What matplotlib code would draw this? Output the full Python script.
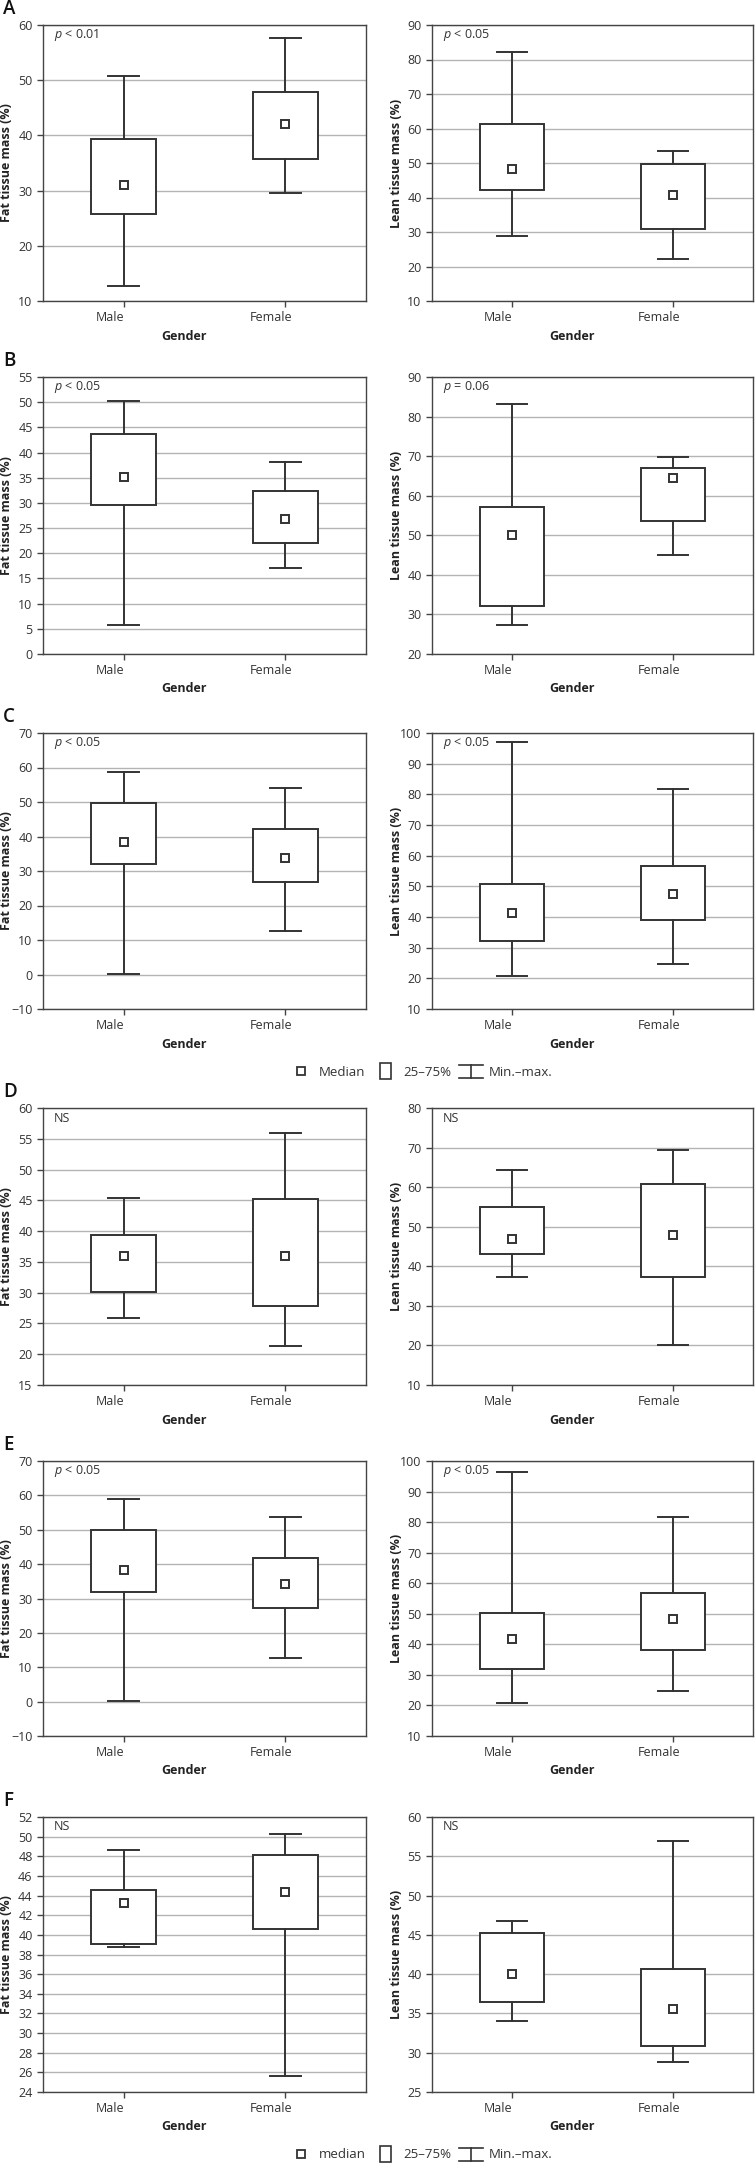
import matplotlib
matplotlib.use('Agg')
import matplotlib.pyplot as plt
import matplotlib.transforms as mtransforms
from matplotlib.lines import Line2D
from matplotlib.patches import Rectangle
from matplotlib.legend_handler import HandlerBase

plt.rcParams['font.family'] = ['Open Sans', 'DejaVu Sans']
plt.rcParams['mathtext.fontset'] = 'custom'
plt.rcParams['mathtext.it'] = 'Open Sans:italic'
plt.rcParams['mathtext.rm'] = 'Open Sans'

groups = ['Male', 'Female']
letters = ['A', 'B', 'C', 'D', 'E', 'F']

# (male, female) per panel
fat_min = [(12.7, 29.6), (5.7, 17.1), (0.1, 12.7), (25.9, 21.4), (0.1, 12.6), (38.8, 25.6)]
fat_q1 = [(25.8, 35.7), (29.5, 22.0), (32.0, 26.9), (30.1, 27.8), (31.9, 27.3), (39.1, 40.6)]
fat_med = [(31.0, 42.1), (35.1, 26.8), (38.4, 33.8), (36.0, 35.9), (38.2, 34.2), (43.2, 44.4)]
fat_q3 = [(39.3, 47.8), (43.6, 32.3), (49.7, 42.2), (39.4, 45.2), (49.9, 41.9), (44.6, 48.1)]
fat_max = [(50.7, 57.7), (50.3, 38.2), (58.7, 54.0), (45.4, 55.9), (58.9, 53.8), (48.6, 50.3)]

lean_min = [(28.8, 22.2), (27.4, 45.1), (20.8, 24.6), (37.3, 20.0), (20.9, 24.7), (34.1, 28.8)]
lean_q1 = [(42.2, 31.0), (32.2, 53.6), (32.2, 38.9), (43.1, 37.3), (32.0, 38.2), (36.5, 30.8)]
lean_med = [(48.4, 40.7), (50.1, 64.5), (41.4, 47.6), (46.8, 48.0), (41.6, 48.3), (40.0, 35.6)]
lean_q3 = [(61.2, 49.8), (57.2, 67.1), (50.9, 56.7), (55.1, 60.7), (50.4, 56.9), (45.3, 40.7)]
lean_max = [(82.2, 53.6), (83.3, 69.8), (97.1, 81.9), (64.4, 69.5), (96.4, 81.7), (46.8, 56.9)]

# y axis (low, high, step)
fat_axis = [(10, 60, 10), (0, 55, 5), (-10, 70, 10), (15, 60, 5), (-10, 70, 10), (24, 52, 2)]
lean_axis = [(10, 90, 10), (20, 90, 10), (10, 100, 10), (10, 80, 10), (10, 100, 10), (25, 60, 5)]

fat_p = [r'$\mathit{p}$ < 0.01', r'$\mathit{p}$ < 0.05', r'$\mathit{p}$ < 0.05', 'NS', r'$\mathit{p}$ < 0.05', 'NS']
lean_p = [r'$\mathit{p}$ < 0.05', r'$\mathit{p}$ = 0.06', r'$\mathit{p}$ < 0.05', 'NS', r'$\mathit{p}$ < 0.05', 'NS']

# panel tops/bottoms in pixels
row_top = [25, 377, 733, 1108, 1461, 1817]
row_bot = [301, 654, 1009, 1385, 1736, 2092]

W, H = 755, 2165
fig = plt.figure(figsize=(W / 100, H / 100), dpi=100)

DARK = '#333333'
GRID = '#b4b4b4'
FS = 9


def draw_panel(ax, mins, q1s, meds, q3s, maxs, axis, ptext, ylabel):
    stats = []
    for i in range(2):
        stats.append(dict(whislo=mins[i], q1=q1s[i], med=meds[i], q3=q3s[i], whishi=maxs[i], fliers=[]))
    ax.bxp(stats, positions=[1, 2], widths=0.4, capwidths=0.19, patch_artist=True,
           boxprops=dict(facecolor='white', edgecolor=DARK, linewidth=1.4),
           whiskerprops=dict(color=DARK, linewidth=1.4),
           capprops=dict(color=DARK, linewidth=1.4),
           medianprops=dict(visible=False), showfliers=False)
    ax.plot([1, 2], meds, linestyle='none', marker='s', markersize=5.5,
            markerfacecolor='white', markeredgecolor=DARK, markeredgewidth=1.4, zorder=5)
    lo, hi, step = axis
    ticks = list(range(lo, hi + 1, step))
    ax.set_ylim(lo, hi)
    ax.set_yticks(ticks)
    ax.set_xlim(0.5, 2.5)
    ax.set_xticks([1, 2])
    ax.set_xticklabels(groups)
    ax.yaxis.grid(True, color=GRID, linewidth=1)
    ax.set_axisbelow(True)
    for s in ax.spines.values():
        s.set_color('#444444')
        s.set_linewidth(1)
    ax.tick_params(axis='both', labelsize=FS, colors='#444444', labelcolor='#333333',
                   length=4, width=1)
    off = mtransforms.ScaledTranslation(-0.14, 0, fig.dpi_scale_trans)
    for lab in ax.get_xticklabels():
        lab.set_transform(lab.get_transform() + off)
    ax.set_ylabel(ylabel, fontsize=FS, fontweight='bold', color='#222222', va='center')
    ax.yaxis.set_label_coords(-36 / ax.bbox.width, 0.5)
    ax.set_xlabel('Gender', fontsize=FS, fontweight='bold', color='#222222', va='center')
    ax.xaxis.set_label_coords(0.435, -35 / ax.bbox.height)
    ax.text(11 / ax.bbox.width, 1 - 10 / ax.bbox.height, ptext, transform=ax.transAxes,
            fontsize=FS, color='#333333', va='center', ha='left')


for r in range(6):
    b = 1 - row_bot[r] / H
    h = (row_bot[r] - row_top[r]) / H
    axL = fig.add_axes([43 / W, b, 323 / W, h])
    axR = fig.add_axes([432 / W, b, 321 / W, h])
    draw_panel(axL, fat_min[r], fat_q1[r], fat_med[r], fat_q3[r], fat_max[r],
               fat_axis[r], fat_p[r], 'Fat tissue mass (%)')
    draw_panel(axR, lean_min[r], lean_q1[r], lean_med[r], lean_q3[r], lean_max[r],
               lean_axis[r], lean_p[r], 'Lean tissue mass (%)')
    fig.text(3 / W, 1 - (row_top[r] - 16) / H, letters[r], fontsize=13.5, fontweight='semibold',
             va='center', ha='left', color='#111111')


class BoxKey:
    pass


class WhiskerKey:
    pass


class BoxHandler(HandlerBase):
    def create_artists(self, legend, orig_handle, xdescent, ydescent, width, height, fontsize, trans):
        w = height * 1.2
        x0 = (width - w) / 2 - xdescent
        rect = Rectangle((x0, -ydescent - 0.35 * height), w, height * 1.7,
                         facecolor='white', edgecolor=DARK, linewidth=1.2, transform=trans)
        return [rect]


class WhiskerHandler(HandlerBase):
    def create_artists(self, legend, orig_handle, xdescent, ydescent, width, height, fontsize, trans):
        cx = width / 2 - xdescent
        hw = width * 0.45
        y0 = -ydescent - 0.3 * height
        y1 = height - ydescent + 0.1 * height
        segs = [([cx - hw, cx + hw], [y1, y1]), ([cx, cx], [y0, y1]), ([cx - hw, cx + hw], [y0, y0])]
        arts = []
        for xs, ys in segs:
            arts.append(Line2D(xs, ys, color=DARK, linewidth=1.2, transform=trans))
        return arts


def add_legend(ycenter, median_label):
    med = Line2D([], [], linestyle='none', marker='s', markersize=6,
                 markerfacecolor='white', markeredgecolor=DARK, markeredgewidth=1.3)
    fig.legend([med, BoxKey(), WhiskerKey()], [median_label, '25–75%', 'Min.–max.'],
               handler_map={BoxKey: BoxHandler(), WhiskerKey: WhiskerHandler()},
               loc='center', bbox_to_anchor=(420 / W, 1 - ycenter / H), ncol=3,
               frameon=False, fontsize=FS + 0.5, handlelength=2.0, handletextpad=0.35,
               columnspacing=0.5, labelcolor='#333333')


add_legend(1072, 'Median')
add_legend(2155, 'median')

fig.savefig('out.png', dpi=100)
